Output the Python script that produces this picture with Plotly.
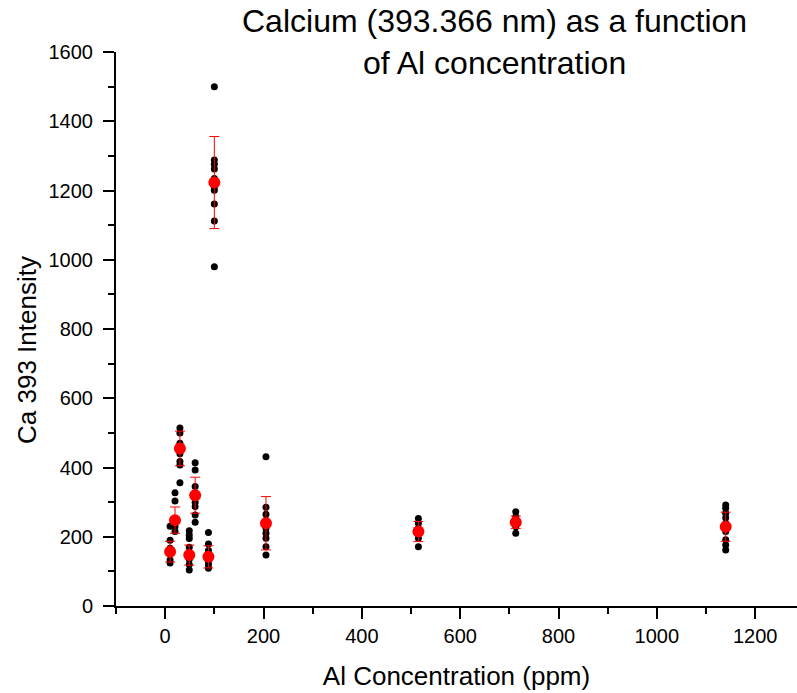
import plotly.graph_objects as go

# Al concentration (ppm) for each group
conc = [10, 20, 30, 49, 61, 88, 100, 205, 515, 713, 1140]

# Individual Ca 393 intensity readings per concentration group
pts_10 = [230, 190, 167, 150, 133, 124]
pts_20 = [327, 303, 253, 240, 229, 215]
pts_30 = [514, 500, 470, 455, 440, 417, 407, 356]
pts_49 = [217, 205, 195, 170, 150, 135, 120, 104]
pts_61 = [414, 393, 345, 316, 300, 287, 263, 242]
pts_88 = [212, 179, 160, 145, 130, 120, 109]
pts_100 = [1500, 1288, 1276, 1262, 1235, 1211, 1201, 1161, 1112, 980]
pts_205 = [431, 285, 265, 248, 239, 224, 210, 196, 171, 147]
pts_515 = [253, 239, 224, 210, 196, 171]
pts_713 = [272, 258, 243, 229, 210]
pts_1140 = [292, 282, 268, 255, 239, 229, 215, 191, 176, 162]

# Group means and standard deviations (red markers with error bars)
means = [157, 248, 455, 147, 320, 142, 1223, 239, 215, 242, 229]
errors = [30, 38, 50, 29, 52, 32, 133, 77, 29, 18, 42]

groups = [pts_10, pts_20, pts_30, pts_49, pts_61, pts_88, pts_100,
          pts_205, pts_515, pts_713, pts_1140]

xs, ys = [], []
for c, g in zip(conc, groups):
    xs.extend([c] * len(g))
    ys.extend(g)

FONT = "Arial, Liberation Sans, sans-serif"

fig = go.Figure()
fig.add_trace(go.Scatter(
    x=xs, y=ys, mode="markers",
    marker=dict(color="black", size=7, line=dict(width=0)),
    showlegend=False, hoverinfo="x+y"))
fig.add_trace(go.Scatter(
    x=conc, y=means, mode="markers",
    marker=dict(color="red", size=12, line=dict(width=0)),
    error_y=dict(type="data", array=errors, visible=True,
                 color="red", thickness=1, width=5),
    showlegend=False))

fig.add_annotation(
    text="Calcium (393.366 nm) as a function<br>of Al concentration",
    xref="paper", yref="paper", x=0.556, y=1.018,
    xanchor="center", yanchor="middle", showarrow=False,
    font=dict(size=32, family=FONT, color="black"))

# y-axis title placed as rotated text (matches reference offset)
fig.add_annotation(
    text="Ca 393 Intensity", textangle=-90,
    xref="paper", yref="paper", x=-89 / 681, y=(606 - 350) / 554,
    xanchor="center", yanchor="middle", showarrow=False,
    font=dict(size=26, family=FONT, color="black"))

fig.update_layout(
    width=797, height=693,
    margin=dict(l=116, r=0, t=52, b=87),
    paper_bgcolor="white", plot_bgcolor="white",
    font=dict(family=FONT, color="black"),
    xaxis=dict(range=[-100, 1285], showgrid=False, zeroline=False,
               showline=True, linecolor="black", linewidth=2,
               ticks="outside", ticklen=11, tickwidth=1.5, tickcolor="black",
               tick0=0, dtick=200,
               minor=dict(ticks="outside", ticklen=6, tickwidth=1.5,
                          tickcolor="black", dtick=100, tick0=0),
               tickfont=dict(size=20),
               title=dict(text="Al Concentration (ppm)",
                          font=dict(size=26), standoff=21)),
    yaxis=dict(range=[0, 1600], showgrid=False, zeroline=False,
               showline=True, linecolor="black", linewidth=2,
               ticks="outside", ticklen=11, tickwidth=1.5, tickcolor="black",
               tick0=0, dtick=200, ticklabelstandoff=6,
               minor=dict(ticks="outside", ticklen=6, tickwidth=1.5,
                          tickcolor="black", dtick=100, tick0=0),
               tickfont=dict(size=20)),
)

fig.write_html("out.html")
